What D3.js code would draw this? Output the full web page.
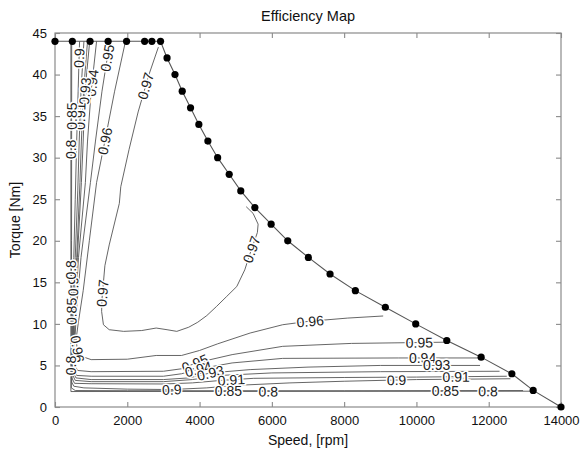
<!DOCTYPE html>
<html>
<head>
<meta charset="utf-8">
<script src="https://cdn.jsdelivr.net/npm/d3@7"></script>
<style>
  html, body { margin: 0; padding: 0; background: #fff; }
  svg { display: block; font-family: "Liberation Sans", Arial, sans-serif; }
</style>
</head>
<body>
<svg id="chart" width="585" height="449"></svg>
<script>
// ---------------- data ----------------
const title = "Efficiency Map";
const xLabel = "Speed, [rpm]";
const yLabel = "Torque [Nm]";
const xTicks = [0, 2000, 4000, 6000, 8000, 10000, 12000, 14000];
const yTicks = [0, 5, 10, 15, 20, 25, 30, 35, 40, 45];

// torque / speed envelope (black dots)
const boundarySpeed = [0, 480, 970, 1470, 1980, 2480, 2680, 2920, 3100, 3320, 3520, 3750, 3980, 4230, 4500,
  4820, 5140, 5530, 5980, 6440, 7010, 7610, 8310, 9140, 9980, 10840, 11790, 12640, 13230, 14000];
const boundaryTorque = [44, 44, 44, 44, 44, 44, 44, 44, 42, 40, 38, 36, 34, 32, 30,
  28, 26, 24, 22, 20, 18, 16, 14, 12, 10, 8, 6, 4, 2, 0];

// efficiency contour lines, [speed rpm, torque Nm]
const c080 = [[440, 44], [440, 1.86], [13230, 1.9]];
const c085 = [[462, 44], [458, 20], [452, 2.3], [560, 1.98], [2000, 1.96], [8000, 1.96], [12950, 1.98]];
const c090 = [[680, 44], [640, 38], [600, 32], [560, 25], [520, 18], [490, 12], [470, 6], [462, 3.0], [520, 2.5],
  [800, 2.3], [2000, 2.15], [3200, 2.1], [4200, 2.3], [5000, 2.6], [6500, 2.9], [8000, 3.1], [10000, 3.3], [12600, 3.4]];
const c091 = [[800, 44], [720, 38], [670, 32], [630, 26], [560, 18], [510, 12], [480, 7], [468, 3.5], [540, 2.85],
  [1000, 2.8], [3000, 2.77], [3800, 2.9], [4600, 3.2], [5500, 3.45], [8000, 3.55], [10000, 3.6], [12500, 3.7]];
const c092 = [[900, 44], [790, 38], [730, 32], [690, 27], [600, 18], [530, 12], [490, 7], [472, 4.0], [560, 3.2],
  [1000, 3.05], [3000, 3.05], [3800, 3.3], [4600, 3.8], [6000, 4.1], [9000, 4.25], [12300, 4.3]];
const c093 = [[960, 44], [830, 38], [780, 32], [730, 27], [620, 18], [545, 12], [500, 7], [478, 4.4], [580, 3.5],
  [1000, 3.3], [3000, 3.3], [3700, 3.5], [4300, 4.1], [5400, 4.5], [7000, 4.8], [9000, 5.0], [11760, 5.0]];
const c094 = [[1150, 44], [1000, 38], [900, 32], [840, 27], [650, 18], [570, 12], [520, 7], [490, 5.0], [600, 3.8],
  [1000, 3.7], [3000, 3.7], [3500, 4.0], [4000, 4.6], [4900, 5.3], [6300, 5.85], [9500, 5.9], [11790, 5.9]];
const c095 = [[1520, 44], [1300, 38], [1120, 32], [980, 27], [720, 18], [600, 12], [550, 8], [510, 5.5], [620, 4.4],
  [1000, 4.25], [3000, 4.3], [3500, 4.6], [3900, 5.3], [4900, 6.3], [6300, 7.3], [8200, 7.65], [10840, 7.8]];
const c096 = [[1950, 44], [1650, 38], [1380, 32], [1150, 27], [950, 20], [780, 14], [640, 10], [580, 8], [640, 6.5],
  [800, 6.0], [1000, 5.7], [2000, 5.75], [2800, 6.2], [3500, 6.2], [4000, 6.8], [4500, 7.6], [5400, 8.9],
  [6300, 9.9], [7000, 10.3], [8100, 10.7], [9080, 10.95]];
const c097 = [[2860, 43.3], [2600, 40], [2300, 35.5], [2050, 31], [1820, 26.5], [1780, 24.5], [1500, 19.5],
  [1380, 17], [1300, 13], [1290, 11.5], [1340, 9.9], [1500, 9.3], [1900, 9.1], [2400, 9.2], [2800, 9.5],
  [3100, 9.3], [3370, 9.1], [3700, 9.6], [3950, 10.2], [4200, 11], [4470, 12.1], [4750, 13.3], [5030, 14.5],
  [5250, 16.5], [5400, 18.5], [5600, 21], [5620, 22], [5480, 23.3], [5290, 24.1]];

const contourLevels = [0.8, 0.85, 0.9, 0.91, 0.92, 0.93, 0.94, 0.95, 0.96, 0.97];
const contourLines = [c080, c085, c090, c091, c092, c093, c094, c095, c096, c097];

// inline label anchors: level, speed, torque
const labelLevel = [0.97, 0.97, 0.97, 0.96, 0.96, 0.96, 0.95, 0.95, 0.95, 0.94, 0.94, 0.94,
  0.93, 0.93, 0.93, 0.91, 0.91, 0.91, 0.9, 0.9, 0.9, 0.9, 0.85, 0.85, 0.85, 0.85,
  0.8, 0.8, 0.8, 0.8, 0.8];
const labelSpeed = [2440, 5480, 1300, 1380, 7060, 650, 1430, 3870, 10080, 1015, 3950, 10170,
  830, 4300, 10560, 680, 4880, 11100, 600, 3230, 9450, 480, 470, 4800, 10800, 455,
  440, 440, 5900, 11980, 440];
const labelTorque = [38.7, 18.9, 13.7, 32, 10.3, 7, 42, 5.3, 7.7, 39, 4.8, 5.9,
  38, 4.1, 5.0, 35, 3.25, 3.6, 42, 2.1, 3.3, 14.5, 35, 1.95, 1.95, 11.5,
  31, 5, 1.87, 1.9, 16.5];

// ---------------- chart ----------------
const svg = d3.select("#chart");
const W = 585, H = 449;
const x = d3.scaleLinear().domain([0, 14000]).range([55, 561]);
const y = d3.scaleLinear().domain([0, 45]).range([407, 33]);

const boxColor = "#8a8a8a";

// axes box
svg.append("rect")
  .attr("x", x(0)).attr("y", y(45))
  .attr("width", x(14000) - x(0)).attr("height", y(0) - y(45))
  .attr("fill", "#fff").attr("stroke", boxColor).attr("stroke-width", 1.2);

// ticks (inward, all four sides)
const tickLen = 5;
const gx = svg.append("g").attr("transform", `translate(0,${y(0)})`)
  .call(d3.axisBottom(x).tickValues(xTicks).tickSize(-tickLen).tickPadding(9).tickFormat(d3.format("d")));
const gxTop = svg.append("g").attr("transform", `translate(0,${y(45)})`)
  .call(d3.axisTop(x).tickValues(xTicks).tickSize(-tickLen).tickFormat(""));
const gy = svg.append("g").attr("transform", `translate(${x(0)},0)`)
  .call(d3.axisLeft(y).tickValues(yTicks).tickSize(-tickLen).tickPadding(8));
const gyR = svg.append("g").attr("transform", `translate(${x(14000)},0)`)
  .call(d3.axisRight(y).tickValues(yTicks).tickSize(-tickLen).tickFormat(""));
[gx, gxTop, gy, gyR].forEach(g => {
  g.select(".domain").remove();
  g.selectAll(".tick line").attr("stroke", boxColor).attr("stroke-width", 1.1);
  g.selectAll("text").attr("font-size", 13).attr("fill", "#111")
    .attr("font-family", "'Liberation Sans', Arial, sans-serif");
});

// contour lines
const line = d3.line().x(d => x(d[0])).y(d => y(d[1]));
const gC = svg.append("g");
contourLines.forEach((pts, i) => {
  gC.append("path").attr("d", line(pts)).attr("fill", "none")
    .attr("stroke", "#555").attr("stroke-width", 0.9).attr("stroke-linejoin", "round");
});

// contour labels: project anchor onto its line, orient along the line
function placeOnLine(pts, px, py) {
  let best = null;
  for (let i = 0; i < pts.length - 1; i++) {
    const ax = x(pts[i][0]), ay = y(pts[i][1]);
    const bx = x(pts[i + 1][0]), by = y(pts[i + 1][1]);
    const dx = bx - ax, dy = by - ay;
    const L2 = dx * dx + dy * dy || 1;
    let t = ((px - ax) * dx + (py - ay) * dy) / L2;
    t = Math.max(0, Math.min(1, t));
    const qx = ax + t * dx, qy = ay + t * dy;
    const d2 = (qx - px) ** 2 + (qy - py) ** 2;
    if (!best || d2 < best.d2) {
      let ang = Math.atan2(dy, dx) * 180 / Math.PI;
      if (ang > 90) ang -= 180;
      if (ang <= -90) ang += 180;
      if (ang >= 89.5) ang -= 180;
      best = { d2, qx, qy, ang };
    }
  }
  return best;
}
const gL = svg.append("g");
labelLevel.forEach((lev, i) => {
  const pts = contourLines[contourLevels.indexOf(lev)];
  const p = placeOnLine(pts, x(labelSpeed[i]), y(labelTorque[i]));
  gL.append("text")
    .attr("transform", `translate(${p.qx},${p.qy}) rotate(${p.ang})`)
    .attr("text-anchor", "middle").attr("dy", "0.36em")
    .attr("font-size", 14).attr("fill", "#222")
    .attr("stroke", "#fff").attr("stroke-width", 3).attr("paint-order", "stroke")
    .text(d3.format(".2~f")(lev));
});

// envelope line + dots
const boundary = boundarySpeed.map((s, i) => [s, boundaryTorque[i]]);
svg.append("path").attr("d", line(boundary)).attr("fill", "none")
  .attr("stroke", "#555").attr("stroke-width", 1.1);
svg.append("g").selectAll("circle").data(boundary).join("circle")
  .attr("cx", d => x(d[0])).attr("cy", d => y(d[1])).attr("r", 3.6).attr("fill", "#000");

// texts
svg.append("text").attr("x", 308).attr("y", 21).attr("text-anchor", "middle")
  .attr("font-size", 14.5).attr("fill", "#111").text(title);
svg.append("text").attr("x", 308).attr("y", 445).attr("text-anchor", "middle")
  .attr("font-size", 14).attr("fill", "#111").text(xLabel);
svg.append("text").attr("transform", `translate(20,${(y(0) + y(45)) / 2}) rotate(-90)`)
  .attr("text-anchor", "middle").attr("font-size", 14).attr("fill", "#111").text(yLabel);
</script>
</body>
</html>
